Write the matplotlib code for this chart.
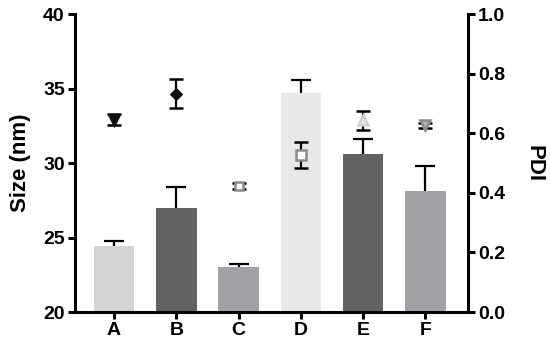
import matplotlib
matplotlib.use("Agg")
import matplotlib.pyplot as plt
import numpy as np

plt.rcParams["font.family"] = ["Liberation Sans", "DejaVu Sans"]
plt.rcParams["font.weight"] = "bold"

# ── Data ──────────────────────────────────────────────────────────────────────
groups    = ["A", "B", "C", "D", "E", "F"]
size_nm   = [24.45, 27.0, 23.0, 34.7, 30.6, 28.1]
size_err  = [0.3, 1.4, 0.25, 0.85, 1.0, 1.7]
pdi       = [0.645, 0.733, 0.423, 0.527, 0.643, 0.627]
pdi_err   = [0.018, 0.049, 0.010, 0.045, 0.032, 0.009]

bar_colors = ["#d4d4d4", "#626262", "#a2a2a6", "#e8e8e8", "#626262", "#a2a2a6"]
mk_shapes  = ["v", "D", "s", "s", "^", "v"]
mk_face    = ["#111111", "#111111", "#ffffff", "#ffffff", "#e6e6e6", "#b0b0b0"]
mk_edge    = ["#111111", "#111111", "#8a8a8a", "#8a8a8a", "#cfcfcf", "#8a8a8a"]
mk_size    = [7, 5, 6, 7, 7, 7]

LW = 2.2

fig = plt.figure(figsize=(5.5, 3.51), dpi=100, facecolor="white")
ax = fig.add_axes([0.1355, 0.111, 0.716, 0.849])
x = np.arange(len(groups))

# ── Bars (Size) with upper-only error bars ────────────────────────────────────
ax.bar(x, size_nm, width=0.65, color=bar_colors, zorder=2)
eb = ax.errorbar(x, size_nm, yerr=[np.zeros(len(x)), size_err], fmt="none",
                 ecolor="black", elinewidth=1.6, capsize=7.5, capthick=1.6, zorder=3)
eb.lines[1][0].set_visible(False)   # drop the lower cap sitting on the bar top

ax.set_ylim(20, 40)
ax.set_yticks([20, 25, 30, 35, 40])
ax.set_xlim(-0.635, 5.69)
ax.set_xticks(x)
ax.set_xticklabels(groups)
ax.set_ylabel("Size (nm)", fontsize=16, fontweight="bold", labelpad=9)

for s in ["top", "right"]:
    ax.spines[s].set_visible(False)
for s in ["left", "bottom"]:
    ax.spines[s].set_linewidth(LW)
ax.tick_params(axis="both", width=LW, length=5, labelsize=14, pad=2)

# ── PDI on the right axis ─────────────────────────────────────────────────────
ax2 = ax.twinx()
for i in range(len(groups)):
    ax2.errorbar(x[i], pdi[i], yerr=pdi_err[i], fmt=mk_shapes[i],
                 ms=mk_size[i], mfc=mk_face[i], mec=mk_edge[i], mew=1.8,
                 ecolor="black", elinewidth=1.6, capsize=5, capthick=1.6, zorder=4)
ax2.set_ylim(0, 1.0)
ax2.set_yticks([0.0, 0.2, 0.4, 0.6, 0.8, 1.0])
ax2.set_yticklabels(["0.0", "0.2", "0.4", "0.6", "0.8", "1.0"])
ax2.set_ylabel("PDI", fontsize=16, fontweight="bold", rotation=270, labelpad=28)
for s in ["top", "left", "bottom"]:
    ax2.spines[s].set_visible(False)
ax2.spines["right"].set_linewidth(LW)
ax2.tick_params(axis="y", width=LW, length=5, labelsize=14, pad=2)

fig.savefig("out.png", dpi=100, facecolor="white")
